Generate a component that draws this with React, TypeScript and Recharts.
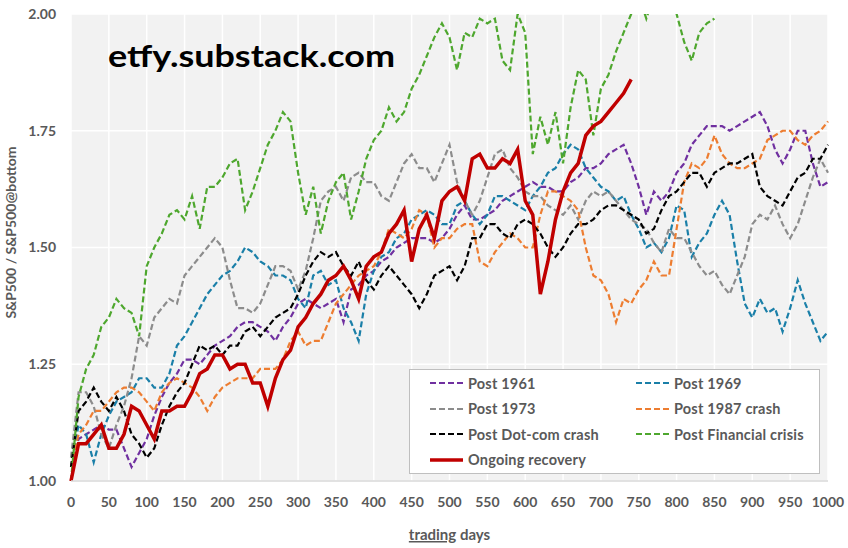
import { LineChart, Line, XAxis, YAxis, CartesianGrid } from 'recharts'

// trading days, sampled every 10 days
const days = Array.from({ length: 101 }, (_, i) => i * 10)

const xTicks = [0, 50, 100, 150, 200, 250, 300, 350, 400, 450, 500, 550, 600, 650, 700, 750, 800, 850, 900, 950, 1000]
const yTicks = [1, 1.25, 1.5, 1.75, 2]

const post1961 = [
  1.03, 1.09, 1.10, 1.11, 1.12, 1.11, 1.11, 1.07, 1.03, 1.06,
  1.09, 1.14, 1.18, 1.21, 1.23, 1.26, 1.26, 1.25, 1.27, 1.29,
  1.30, 1.31, 1.33, 1.34, 1.34, 1.33, 1.32, 1.30, 1.33, 1.35,
  1.38, 1.39, 1.38, 1.37, 1.38, 1.39, 1.34, 1.41, 1.42, 1.44,
  1.45, 1.47, 1.48, 1.50, 1.51, 1.52, 1.52, 1.52, 1.51, 1.52,
  1.54, 1.57, 1.59, 1.56, 1.56, 1.57, 1.58, 1.60, 1.61, 1.62,
  1.63, 1.64, 1.63, 1.63, 1.62, 1.62, 1.64, 1.65, 1.67, 1.67,
  1.68, 1.70, 1.71, 1.72, 1.68, 1.63, 1.57, 1.62, 1.60, 1.62,
  1.66, 1.68, 1.72, 1.74, 1.76, 1.76, 1.76, 1.75, 1.76, 1.77,
  1.78, 1.79, 1.76, 1.71, 1.68, 1.71, 1.75, 1.75, 1.68, 1.63,
  1.64,
]

const post1969 = [
  1.03, 1.12, 1.10, 1.04, 1.10, 1.14, 1.17, 1.18, 1.19, 1.22,
  1.22, 1.20, 1.20, 1.23, 1.29, 1.31, 1.34, 1.37, 1.40, 1.42,
  1.44, 1.45, 1.47, 1.50, 1.49, 1.47, 1.46, 1.44, 1.44, 1.43,
  1.39, 1.37, 1.44, 1.45, 1.42, 1.43, 1.37, 1.34, 1.30, 1.40,
  1.45, 1.48, 1.49, 1.52, 1.53, 1.56, 1.57, 1.58, 1.57, 1.55,
  1.55, 1.59, 1.60, 1.57, 1.55, 1.57, 1.61, 1.61, 1.60, 1.59,
  1.58, 1.61, 1.63, 1.66, 1.67, 1.70, 1.72, 1.71, 1.67, 1.65,
  1.63, 1.62, 1.60, 1.61, 1.57, 1.54, 1.50, 1.51, 1.49, 1.52,
  1.59, 1.58, 1.48, 1.51, 1.53, 1.57, 1.60, 1.57, 1.47, 1.38,
  1.35, 1.39, 1.36, 1.37, 1.32, 1.37, 1.43, 1.38, 1.34, 1.30,
  1.32,
]

const post1973 = [
  1.05, 1.19, 1.19, 1.16, 1.10, 1.07, 1.12, 1.16, 1.22, 1.31,
  1.29, 1.35, 1.37, 1.39, 1.38, 1.44, 1.46, 1.48, 1.50, 1.52,
  1.50, 1.43, 1.37, 1.37, 1.36, 1.38, 1.42, 1.46, 1.46, 1.45,
  1.41, 1.45, 1.52, 1.60, 1.62, 1.63, 1.60, 1.65, 1.66, 1.64,
  1.64, 1.61, 1.60, 1.64, 1.68, 1.70, 1.67, 1.67, 1.64, 1.68,
  1.72, 1.64, 1.60, 1.57, 1.60, 1.65, 1.70, 1.71, 1.67, 1.65,
  1.62, 1.61, 1.61, 1.59, 1.58, 1.57, 1.59, 1.56, 1.60, 1.62,
  1.61, 1.62, 1.60, 1.58, 1.56, 1.55, 1.54, 1.51, 1.49, 1.54,
  1.52, 1.52, 1.49, 1.46, 1.44, 1.45, 1.42, 1.40, 1.44, 1.48,
  1.55, 1.57, 1.56, 1.59, 1.55, 1.52, 1.55, 1.60, 1.65, 1.69,
  1.66,
]

const post1987 = [
  1.03, 1.10, 1.12, 1.15, 1.15, 1.17, 1.19, 1.20, 1.20, 1.19,
  1.17, 1.15, 1.19, 1.21, 1.22, 1.21, 1.20, 1.18, 1.15, 1.18,
  1.20, 1.21, 1.22, 1.22, 1.22, 1.24, 1.24, 1.24, 1.26, 1.30,
  1.32, 1.29, 1.30, 1.30, 1.34, 1.38, 1.40, 1.42, 1.44, 1.45,
  1.46, 1.49, 1.54, 1.53, 1.52, 1.54, 1.58, 1.57, 1.50, 1.52,
  1.52, 1.54, 1.55, 1.55, 1.47, 1.46, 1.49, 1.51, 1.53, 1.52,
  1.50, 1.50, 1.57, 1.62, 1.62, 1.61, 1.60, 1.58, 1.50, 1.44,
  1.43, 1.40, 1.34, 1.39, 1.38, 1.41, 1.43, 1.47, 1.44, 1.44,
  1.54, 1.64, 1.68, 1.67, 1.69, 1.74, 1.70, 1.68, 1.67, 1.67,
  1.68, 1.69, 1.73, 1.74, 1.75, 1.75, 1.73, 1.72, 1.74, 1.75,
  1.77,
]

const postDotcom = [
  1.03, 1.15, 1.17, 1.20, 1.17, 1.15, 1.18, 1.15, 1.10, 1.08,
  1.05, 1.07, 1.12, 1.16, 1.19, 1.21, 1.25, 1.29, 1.28, 1.29,
  1.27, 1.29, 1.29, 1.32, 1.33, 1.31, 1.33, 1.35, 1.36, 1.37,
  1.40, 1.44, 1.47, 1.49, 1.48, 1.49, 1.46, 1.44, 1.47, 1.43,
  1.41, 1.44, 1.46, 1.44, 1.42, 1.40, 1.37, 1.40, 1.44, 1.45,
  1.46, 1.43, 1.46, 1.52, 1.52, 1.55, 1.55, 1.53, 1.52, 1.55,
  1.56, 1.55, 1.53, 1.50, 1.48, 1.50, 1.53, 1.55, 1.55, 1.56,
  1.58, 1.59, 1.59, 1.58, 1.57, 1.56, 1.53, 1.54, 1.58, 1.61,
  1.62, 1.64, 1.66, 1.66, 1.63, 1.66, 1.67, 1.68, 1.68, 1.69,
  1.70, 1.63, 1.61, 1.60, 1.59, 1.62, 1.65, 1.66, 1.69, 1.69,
  1.72,
]

const postGfc = [
  1.00, 1.18, 1.24, 1.27, 1.33, 1.35, 1.39, 1.37, 1.36, 1.31,
  1.46, 1.50, 1.53, 1.57, 1.58, 1.56, 1.61, 1.54, 1.63, 1.63,
  1.65, 1.68, 1.69, 1.58, 1.62, 1.67, 1.72, 1.75, 1.79, 1.77,
  1.66, 1.57, 1.63, 1.53, 1.60, 1.64, 1.66, 1.56, 1.62, 1.69,
  1.73, 1.75, 1.80, 1.77, 1.79, 1.84, 1.87, 1.91, 1.95, 1.98,
  1.95, 1.88, 1.96, 1.95, 1.99, 1.98, 1.99, 1.90, 1.88, 2.00,
  1.96, 1.70, 1.78, 1.72, 1.79, 1.68, 1.80, 1.88, 1.86, 1.74,
  1.84, 1.87, 1.92, 1.96, 2.00, 2.04, 1.99, 2.04, 2.06, 2.04,
  2.00, 1.94, 1.90, 1.96, 1.98, 1.99, null, null, null, null,
  null, null, null, null, null, null, null, null, null, null,
  null,
]

const ongoing = [
  1.00, 1.08, 1.08, 1.10, 1.12, 1.07, 1.07, 1.10, 1.16, 1.15,
  1.12, 1.09, 1.15, 1.15, 1.16, 1.16, 1.19, 1.23, 1.24, 1.27,
  1.27, 1.24, 1.25, 1.25, 1.21, 1.21, 1.16, 1.22, 1.26, 1.28,
  1.33, 1.35, 1.38, 1.40, 1.43, 1.44, 1.46, 1.43, 1.39, 1.46,
  1.48, 1.49, 1.53, 1.55, 1.58, 1.47, 1.54, 1.57, 1.52, 1.60,
  1.62, 1.63, 1.60, 1.69, 1.70, 1.67, 1.67, 1.69, 1.68, 1.71,
  1.60, 1.57, 1.40, 1.47, 1.56, 1.62, 1.66, 1.68, 1.74, 1.76,
  1.77, 1.79, 1.81, 1.83, 1.86, null, null, null, null, null,
  null, null, null, null, null, null, null, null, null, null,
  null, null, null, null, null, null, null, null, null, null,
  null,
]

const series = [
  { key: 'p1961', name: 'Post 1961', values: post1961, color: '#7030a0', dashed: true },
  { key: 'p1969', name: 'Post 1969', values: post1969, color: '#1a7fa8', dashed: true },
  { key: 'p1973', name: 'Post 1973', values: post1973, color: '#8c8c8c', dashed: true },
  { key: 'p1987', name: 'Post 1987 crash', values: post1987, color: '#ed7d31', dashed: true },
  { key: 'dotcom', name: 'Post Dot-com crash', values: postDotcom, color: '#000000', dashed: true },
  { key: 'gfc', name: 'Post Financial crisis', values: postGfc, color: '#4ea72e', dashed: true },
  { key: 'now', name: 'Ongoing recovery', values: ongoing, color: '#c00000', dashed: false },
]

const rows = days.map((day, i) => {
  const row: Record<string, number | null> = { day }
  series.forEach((s) => {
    row[s.key] = s.values[i]
  })
  return row
})

const FONT = 'Lato, "Open Sans", sans-serif'
const TEXT = '#595959'

function XTitle(props: any) {
  const { viewBox } = props
  const cx = viewBox.x + viewBox.width / 2
  return (
    <text x={cx} y={viewBox.y + 59} textAnchor="middle" fontFamily={FONT} fontWeight={700} fontSize={15} fill={TEXT}>
      <tspan style={{ textDecoration: 'underline' }}>trading</tspan>
      <tspan> days</tspan>
    </text>
  )
}

function YTitle(props: any) {
  const { viewBox } = props
  const cy = viewBox.y + viewBox.height / 2 - 15
  const x = viewBox.x - 6
  return (
    <text
      x={x}
      y={cy}
      transform={`rotate(-90 ${x} ${cy})`}
      textAnchor="middle"
      dominantBaseline="central"
      fontFamily={FONT}
      fontWeight={700}
      fontSize={14}
      fill={TEXT}
    >
      S&amp;P500 / S&amp;P500@bottom
    </text>
  )
}

function LegendBox() {
  return (
    <div
      style={{
        position: 'absolute',
        left: 409,
        top: 369,
        width: 411,
        height: 105,
        boxSizing: 'border-box',
        background: '#ffffff',
        border: '1px solid #bfbfbf',
      }}
    >
      {series.map((s, i) => {
        const col = i % 2
        const row = Math.floor(i / 2)
        return (
          <div
            key={s.key}
            style={{
              position: 'absolute',
              left: col === 0 ? 19 : 225,
              top: 3 + row * 25.5,
              height: 20,
              display: 'flex',
              alignItems: 'center',
              fontFamily: FONT,
              fontWeight: 700,
              fontSize: 14.5,
              letterSpacing: 0.2,
              color: TEXT,
              whiteSpace: 'nowrap',
            }}
          >
            <svg width={34} height={6} style={{ marginRight: 5 }}>
              <line
                x1={1}
                y1={3}
                x2={34}
                y2={3}
                stroke={s.color}
                strokeWidth={s.dashed ? 2.2 : 3.5}
                strokeDasharray={s.dashed ? '6 3' : undefined}
              />
            </svg>
            {s.name}
          </div>
        )
      })}
    </div>
  )
}

export default function App() {
  return (
    <div style={{ position: 'absolute', left: 0, top: 0, width: 848, height: 548, background: '#ffffff' }}>
      <LineChart width={848} height={548} data={rows} margin={{ top: 14, right: 20, bottom: 27, left: 16 }}>
        <CartesianGrid fill="#f2f2f2" stroke="#ffffff" strokeWidth={1.5} />
        <XAxis
          dataKey="day"
          type="number"
          domain={[0, 1000]}
          ticks={xTicks}
          height={40}
          tickLine={false}
          tickSize={0}
          tickMargin={16}
          axisLine={{ stroke: '#d9d9d9', strokeWidth: 1.5 }}
          tick={{ fill: TEXT, fontSize: 14, fontWeight: 700, fontFamily: FONT }}
          label={<XTitle />}
        />
        <YAxis
          type="number"
          domain={[1, 2]}
          ticks={yTicks}
          allowDataOverflow
          width={55}
          tickLine={false}
          tickSize={0}
          tickMargin={15}
          axisLine={false}
          tickFormatter={(v: number) => v.toFixed(2)}
          tick={{ fill: TEXT, fontSize: 14, fontWeight: 700, fontFamily: FONT }}
          label={<YTitle />}
        />
        {series.map((s) => (
          <Line
            key={s.key}
            dataKey={s.key}
            name={s.name}
            type="linear"
            stroke={s.color}
            strokeWidth={s.dashed ? 2.2 : 3.5}
            strokeDasharray={s.dashed ? '6 3' : undefined}
            dot={false}
            activeDot={false}
            isAnimationActive={false}
          />
        ))}
      </LineChart>
      <svg width={848} height={100} style={{ position: 'absolute', left: 0, top: 0, pointerEvents: 'none' }}>
        <text
          x={108}
          y={67}
          fontFamily={FONT}
          fontWeight={700}
          fontSize={31}
          textLength={287}
          lengthAdjust="spacingAndGlyphs"
          fill="#000000"
        >
          etfy.substack.com
        </text>
      </svg>
      <LegendBox />
    </div>
  )
}
